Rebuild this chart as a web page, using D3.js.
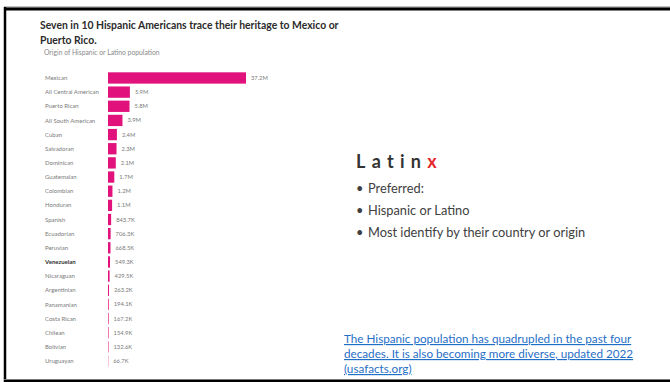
<!DOCTYPE html>
<html>
<head>
<meta charset="utf-8">
<script src="https://cdn.jsdelivr.net/npm/d3@7"></script>
<style>
  html, body { margin: 0; padding: 0; background: #fff; }
  svg { display: block; }
</style>
</head>
<body>
<svg id="chart" width="670" height="382"></svg>
<script>
// Origin groups, largest first, with population in thousands
const categories = [
  "Mexican", "All Central American", "Puerto Rican", "All South American",
  "Cuban", "Salvadoran", "Dominican", "Guatemalan", "Colombian", "Honduran",
  "Spanish", "Ecuadorian", "Peruvian", "Venezuelan", "Nicaraguan",
  "Argentinian", "Panamanian", "Costa Rican", "Chilean", "Bolivian", "Uruguayan"
];
const populationK = [
  37200, 5900, 5800, 3900,
  2400, 2300, 2100, 1700, 1200, 1100,
  843.7, 706.3, 668.5, 549.3, 429.5,
  263.2, 194.1, 167.2, 154.9, 132.6, 66.7
];
const highlighted = ["Venezuelan"];

const titleLines = [
  "Seven in 10 Hispanic Americans trace their heritage to Mexico or",
  "Puerto Rico."
];
const subtitle = "Origin of Hispanic or Latino population";
const bullets = [
  "Preferred:",
  "Hispanic or Latino",
  "Most identify by their country or origin"
];
const sourceLines = [
  "The Hispanic population has quadrupled in the past four",
  "decades. It is also becoming more diverse, updated 2022",
  "(usafacts.org)"
];

const data = categories.map((c, i) => ({ name: c, value: populationK[i] }));
const fmt = v => v >= 1000 ? (v / 1000).toFixed(1) + "M" : v.toFixed(1) + "K";

const svg = d3.select("#chart");
const chartFont = "Lato, 'Open Sans', sans-serif";

// slide frame
svg.append("line").attr("x1", 4).attr("x2", 670).attr("y1", 7).attr("y2", 7)
  .attr("stroke", "#888").attr("stroke-width", 1);
svg.append("line").attr("x1", 4).attr("x2", 670).attr("y1", 9).attr("y2", 9)
  .attr("stroke", "#000").attr("stroke-width", 3);
svg.append("line").attr("x1", 5).attr("x2", 5).attr("y1", 7).attr("y2", 382)
  .attr("stroke", "#000").attr("stroke-width", 2.5);
svg.append("line").attr("x1", 4).attr("x2", 670).attr("y1", 379.5).attr("y2", 379.5)
  .attr("stroke", "#777").attr("stroke-width", 1);
svg.append("line").attr("x1", 4).attr("x2", 670).attr("y1", 381).attr("y2", 381)
  .attr("stroke", "#000").attr("stroke-width", 2);

// title block
svg.append("g").selectAll("text").data(titleLines).join("text")
  .attr("x", 40).attr("y", (d, i) => 29 + i * 14.5)
  .attr("font-family", chartFont).attr("font-weight", 700)
  .attr("font-size", 10.4).attr("fill", "#2b2b2b")
  .text(d => d);

svg.append("text").attr("x", 44).attr("y", 54.5)
  .attr("font-family", chartFont).attr("font-size", 6.8).attr("fill", "#8a8a8a")
  .text(subtitle);

// scales
const x = d3.scaleLinear().domain([0, d3.max(populationK)]).range([108, 246]);
const y = d3.scaleBand().domain(categories).range([70.9, 368.1])
  .paddingInner(0.2).paddingOuter(0.1);

const rows = svg.append("g").selectAll("g").data(data).join("g");

rows.append("rect")
  .attr("x", x(0))
  .attr("y", d => y(d.name))
  .attr("width", d => x(d.value) - x(0))
  .attr("height", y.bandwidth())
  .attr("fill", "#e2127c");

rows.append("text")
  .attr("x", 45)
  .attr("y", d => y(d.name) + y.bandwidth() / 2)
  .attr("dy", "0.35em")
  .attr("font-family", chartFont)
  .attr("font-size", 6.0)
  .attr("font-weight", d => highlighted.includes(d.name) ? 700 : 400)
  .attr("fill", d => highlighted.includes(d.name) ? "#333" : "#7a7a7a")
  .text(d => d.name);

rows.append("text")
  .attr("x", d => x(d.value) + 5)
  .attr("y", d => y(d.name) + y.bandwidth() / 2)
  .attr("dy", "0.35em")
  .attr("font-family", chartFont)
  .attr("font-size", 5.8)
  .attr("fill", "#7a7a7a")
  .text(d => fmt(d.value));

// heading on the right
const heading = svg.append("text").attr("x", 356).attr("y", 168)
  .attr("font-family", "Lato, 'Open Sans', sans-serif").attr("font-weight", 700)
  .attr("font-size", 18).attr("letter-spacing", 6.3).attr("fill", "#333");
heading.append("tspan").text("Latin");
heading.append("tspan").attr("fill", "#e3262b").text("x");

const bl = svg.append("g").selectAll("g").data(bullets).join("g")
  .attr("transform", (d, i) => `translate(0, ${193 + i * 22})`);
bl.append("text").attr("x", 356).attr("y", 0)
  .attr("font-family", "Lato, sans-serif").attr("font-size", 12.8).attr("fill", "#404040")
  .text("\u2022");
bl.append("text").attr("x", 368).attr("y", 0)
  .attr("font-family", "Lato, sans-serif").attr("font-size", 12.8).attr("fill", "#404040")
  .text(d => d);

// source link
svg.append("g").selectAll("text").data(sourceLines).join("text")
  .attr("x", 344).attr("y", (d, i) => 343 + i * 15)
  .attr("font-family", "Lato, sans-serif").attr("font-size", 11.7)
  .attr("fill", "#1f6fc6").attr("text-decoration", "underline")
  .text(d => d);
</script>
</body>
</html>
